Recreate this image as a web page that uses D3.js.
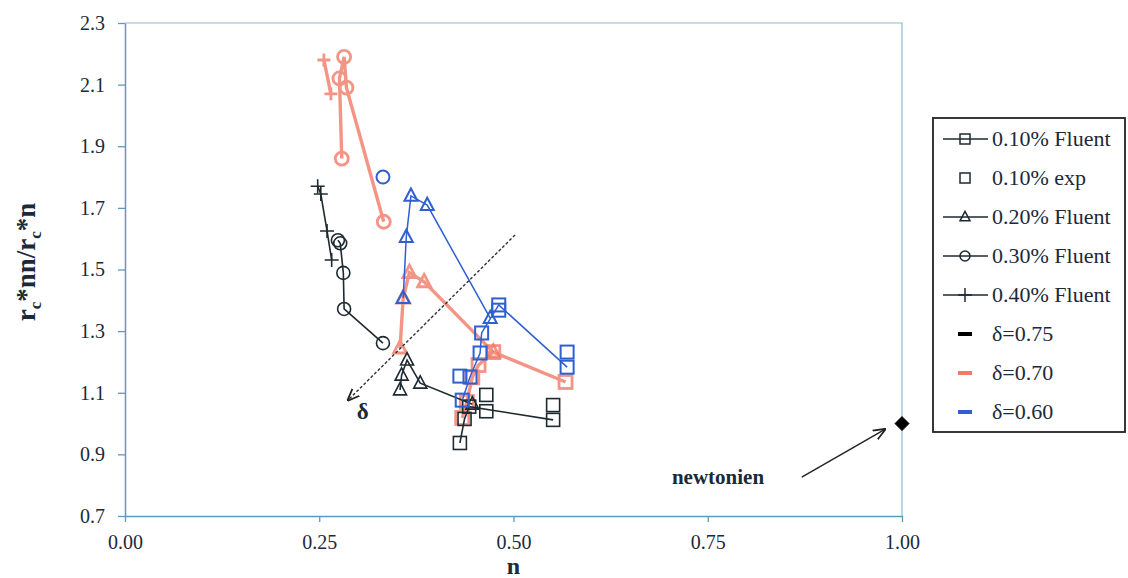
<!DOCTYPE html>
<html><head><meta charset="utf-8">
<script src="https://cdn.jsdelivr.net/npm/d3@7"></script>
<style>
html,body{margin:0;padding:0;background:#fff;}
svg{display:block;}
text{font-family:"Liberation Serif","DejaVu Serif",serif;}
</style></head>
<body><svg id="chart" width="1128" height="578"></svg>
<script>
// ---- data ----
const xTicks = [0, 0.25, 0.5, 0.75, 1.0];
const yTicks = [0.7, 0.9, 1.1, 1.3, 1.5, 1.7, 1.9, 2.1, 2.3];

// delta = 0.75 (black)
const fluent010_d075 = [[0.431,0.937],[0.437,1.015],[0.443,1.055],[0.551,1.012]];
const exp010_d075    = [[0.465,1.093],[0.465,1.040],[0.551,1.060]];
const fluent020_d075 = [[0.354,1.109],[0.356,1.157],[0.363,1.206],[0.380,1.131],[0.447,1.063]];
const fluent030_d075 = [[0.274,1.595],[0.277,1.585],[0.281,1.489],[0.282,1.372],[0.332,1.261]];
const fluent040_d075 = [[0.248,1.770],[0.252,1.745],[0.260,1.625],[0.266,1.531]];

// delta = 0.70 (red)
const fluent010_d070 = [[0.434,1.018],[0.440,1.070],[0.447,1.150],[0.455,1.190],[0.474,1.232],[0.567,1.135]];
const fluent020_d070 = [[0.354,1.245],[0.358,1.407],[0.366,1.490],[0.385,1.460],[0.474,1.232]];
const fluent030_d070 = [[0.279,1.860],[0.276,2.120],[0.282,2.190],[0.285,2.090],[0.333,1.655]];
const fluent040_d070 = [[0.256,2.180],[0.265,2.070]];

// delta = 0.60 (blue)
const fluent010_d060 = [[0.434,1.076],[0.444,1.151],[0.457,1.229],[0.459,1.294],[0.481,1.385],[0.569,1.183]];
const exp010_d060    = [[0.431,1.154],[0.481,1.368],[0.569,1.232]];
const fluent020_d060 = [[0.358,1.407],[0.362,1.605],[0.368,1.739],[0.389,1.709],[0.470,1.342]];
const fluent030_d060 = [[0.332,1.800]];

const newtonian = [[1.0, 1.0]];
const deltaArrow = [[0.502, 1.612], [0.287, 1.076]];
const newtonArrow = [[0.871, 0.826], [0.978, 0.981]];

const legendLabels = ["0.10% Fluent","0.10% exp","0.20% Fluent","0.30% Fluent","0.40% Fluent","δ=0.75","δ=0.70","δ=0.60"];

// ---- layout ----
const svg = d3.select("#chart");
const L = 125, R = 902, T = 23, B = 516;
const x = d3.scaleLinear().domain([0, 1]).range([L, R]);
const y = d3.scaleLinear().domain([0.7, 2.3]).range([B, T]);

const axisCol = "#5b9cbd";
const TXT = "#1b2a3a";
const BLACK = "#1d2a30", RED = "#f27a66", BLUE = "#2f5fd0";

// plot border (top/right)
svg.append("path").attr("d", `M${L},${T}H${R}V${B}`).attr("fill","none").attr("stroke","#8bbbd2").attr("stroke-width",1.2);

// axes
const gx = svg.append("g").attr("transform",`translate(0,${B})`)
  .call(d3.axisBottom(x).tickValues(xTicks).tickFormat(d3.format(".2f")).tickSizeInner(6).tickSizeOuter(0).tickPadding(13));
const gy = svg.append("g").attr("transform",`translate(${L},0)`)
  .call(d3.axisLeft(y).tickValues(yTicks).tickFormat(d3.format(".1f")).tickSizeInner(7).tickSizeOuter(0).tickPadding(13));
[gx, gy].forEach(g => {
  g.select(".domain").attr("stroke", axisCol).attr("stroke-width", 1.5);
  g.selectAll(".tick line").attr("stroke", axisCol).attr("stroke-width", 1.3);
  g.selectAll(".tick text").attr("fill", TXT).attr("font-size", 20).attr("font-family","Liberation Serif, serif");
});

// axis titles
svg.append("text").attr("x", (L+R)/2).attr("y", 574).attr("text-anchor","middle")
  .attr("font-size", 24).attr("font-weight","bold").attr("fill",TXT).text("n");
const yt = svg.append("text").attr("transform","translate(35,262) rotate(-90)").attr("text-anchor","middle")
  .attr("font-size", 27).attr("font-weight","bold").attr("fill",TXT);
yt.append("tspan").text("r");
yt.append("tspan").attr("font-size",17).attr("dy",6).text("c");
yt.append("tspan").attr("dy",-6).text("*nn/r");
yt.append("tspan").attr("font-size",17).attr("dy",6).text("c");
yt.append("tspan").attr("dy",-6).text("*n");

// ---- markers ----
function marker(g, type, cx, cy, col, sw, size) {
  const s = size;
  if (type === "square") {
    g.append("rect").attr("x", cx - s/2).attr("y", cy - s/2).attr("width", s).attr("height", s)
      .attr("fill","none").attr("stroke", col).attr("stroke-width", sw);
  } else if (type === "circle") {
    g.append("circle").attr("cx", cx).attr("cy", cy).attr("r", s/2)
      .attr("fill","none").attr("stroke", col).attr("stroke-width", sw);
  } else if (type === "triangle") {
    const h = s * 0.95;
    g.append("path").attr("d", `M${cx},${cy - h*0.6}L${cx + s/2},${cy + h*0.4}L${cx - s/2},${cy + h*0.4}Z`)
      .attr("fill","none").attr("stroke", col).attr("stroke-width", sw);
  } else if (type === "plus") {
    g.append("path").attr("d", `M${cx - s/2},${cy}H${cx + s/2}M${cx},${cy - s/2}V${cy + s/2}`)
      .attr("fill","none").attr("stroke", col).attr("stroke-width", sw);
  } else if (type === "diamond") {
    g.append("path").attr("d", `M${cx},${cy - s/2}L${cx + s/2},${cy}L${cx},${cy + s/2}L${cx - s/2},${cy}Z`)
      .attr("fill", col).attr("stroke", col);
  }
}

const line = d3.line().x(d => x(d[0])).y(d => y(d[1]));

function series(data, type, col, opts) {
  const g = svg.append("g").attr("opacity", opts.opacity || 1);
  if (opts.line) {
    g.append("path").datum(data).attr("d", line).attr("fill","none")
      .attr("stroke", col).attr("stroke-width", opts.lw);
  }
  data.forEach(d => marker(g, type, x(d[0]), y(d[1]), col, opts.msw, opts.size));
}

// red (delta 0.70) first
const redOpt = {line:true, lw:3.4, msw:2.8, opacity:0.8};
series(fluent030_d070, "circle", RED, {...redOpt, size:13});
series(fluent040_d070, "plus", RED, {...redOpt, size:13});
series(fluent020_d070, "triangle", RED, {...redOpt, size:13});
series(fluent010_d070, "square", RED, {...redOpt, size:13});

// black (delta 0.75)
const blkOpt = {line:true, lw:1.6, msw:1.6};
series(fluent040_d075, "plus", BLACK, {...blkOpt, size:14});
series(fluent030_d075, "circle", BLACK, {...blkOpt, size:13});
series(fluent020_d075, "triangle", BLACK, {...blkOpt, size:13});
series(fluent010_d075, "square", BLACK, {...blkOpt, size:13});
series(exp010_d075, "square", BLACK, {line:false, msw:1.6, size:13});

// blue (delta 0.60)
const bluOpt = {line:true, lw:1.5, msw:2};
series(fluent020_d060, "triangle", BLUE, {...bluOpt, size:13});
series(fluent010_d060, "square", BLUE, {...bluOpt, size:13});
series(exp010_d060, "square", BLUE, {line:false, msw:2, size:13});
series(fluent030_d060, "circle", BLUE, {line:false, msw:2, size:13});

// newtonian point
series(newtonian, "diamond", "#000", {line:false, msw:1, size:14});

// arrows
const defs = svg.append("defs");
defs.append("marker").attr("id","ah").attr("viewBox","0 0 10 10").attr("refX",9).attr("refY",5)
  .attr("markerWidth",9).attr("markerHeight",9).attr("orient","auto-start-reverse")
  .append("path").attr("d","M0,1L10,5L0,9").attr("fill","none").attr("stroke","#222").attr("stroke-width",1.4);
svg.append("line").attr("x1", x(deltaArrow[0][0])).attr("y1", y(deltaArrow[0][1]))
  .attr("x2", x(deltaArrow[1][0])).attr("y2", y(deltaArrow[1][1]))
  .attr("stroke","#333").attr("stroke-width",1.4).attr("stroke-dasharray","3,2").attr("marker-end","url(#ah)");
svg.append("text").attr("x", x(0.306)).attr("y", y(1.015)).attr("text-anchor","middle")
  .attr("font-size",23).attr("font-weight","bold").attr("fill",TXT).text("δ");
svg.append("line").attr("x1", x(newtonArrow[0][0])).attr("y1", y(newtonArrow[0][1]))
  .attr("x2", x(newtonArrow[1][0])).attr("y2", y(newtonArrow[1][1]))
  .attr("stroke","#222").attr("stroke-width",1.4).attr("marker-end","url(#ah)");
svg.append("text").attr("x", 718).attr("y", 484).attr("text-anchor","middle")
  .attr("font-size",21).attr("font-weight","bold").attr("fill",TXT).text("newtonien");

// ---- legend ----
const lg = svg.append("g");
lg.append("rect").attr("x",933).attr("y",118).attr("width",192).attr("height",314)
  .attr("fill","#fff").attr("stroke","#222").attr("stroke-width",1.8);
const legendTypes = ["square","square","triangle","circle","plus",null,null,null];
const legendLines = [true,false,true,true,true,false,false,false];
const legendCols = [BLACK,BLACK,BLACK,BLACK,BLACK,"#000",RED,BLUE];
legendLabels.forEach((lab, i) => {
  const cy = 139 + i * 39;
  if (legendLines[i]) lg.append("line").attr("x1",943).attr("x2",988).attr("y1",cy).attr("y2",cy)
    .attr("stroke",BLACK).attr("stroke-width",1.5);
  if (legendTypes[i]) marker(lg, legendTypes[i], 965, cy, BLACK, 1.5, legendTypes[i]==="plus"?14:10);
  else lg.append("line").attr("x1",958).attr("x2",972).attr("y1",cy).attr("y2",cy)
    .attr("stroke",legendCols[i]).attr("stroke-width",4);
  lg.append("text").attr("x",992).attr("y",cy+7).attr("font-size",22).attr("fill",TXT).text(lab);
});
</script></body></html>
